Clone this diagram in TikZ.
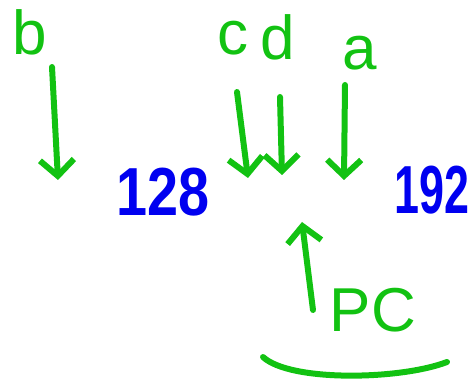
\documentclass[tikz,border=0pt]{standalone}
\usepackage{fontspec}
\setmainfont{Liberation Sans}
\usetikzlibrary{arrows.meta}
\definecolor{penGreen}{RGB}{18,194,18}
\definecolor{penBlue}{RGB}{0,0,240}

\begin{document}
\begin{tikzpicture}[x=0.5pt,y=-0.5pt,
    pen/.style={penGreen,line width=3pt,line cap=round,line join=round},
    hand/.style={pen,-{Straight Barb[length=8pt,width=17pt]}},
    word/.style={penGreen,anchor=base,inner sep=0pt,font=\fontsize{31}{31}\selectfont},
    number/.style={penBlue,anchor=base,inner sep=0pt,font=\bfseries\fontsize{34}{34}\selectfont}]
            \useasboundingbox (0,0) rectangle (472,385);

            \coordinate (bT) at (52,67);
            \coordinate (bH) at (58,180);
            \coordinate (cT) at (237,92);
            \coordinate (cH) at (248,178);
            \coordinate (dT) at (280,97);
            \coordinate (dH) at (282,175);
            \coordinate (aT) at (345,85);
            \coordinate (aH) at (344,180);
            \coordinate (pcT) at (313,310);
            \coordinate (pcH) at (302,222);
            \coordinate (L) at (263,357);
            \coordinate (R) at (447,362);

            \node[word] (b) at (30,55) {b};
            \node[word] (c) at (233,55) {c};
            \node[word] (d) at (278,60) {d};
            \node[word] (a) at (360,70) {a};
            \node[word] (pc) at (373,331) {PC};
            \node[number,xscale=0.82] (n128) at (163,216) {128};
            \node[number,xscale=0.66] (n192) at (432,214) {192};

            \draw[hand] (bT) -- (bH);
            \draw[hand] (cT) -- (cH);
            \draw[hand] (dT) -- (dH);
            \draw[hand] (aT) -- (aH);
            \draw[hand] (pcT) -- (pcH);

            \draw[pen] (L) .. controls (290,382) and (400,380) .. (R);
        \end{tikzpicture}
\end{document}
